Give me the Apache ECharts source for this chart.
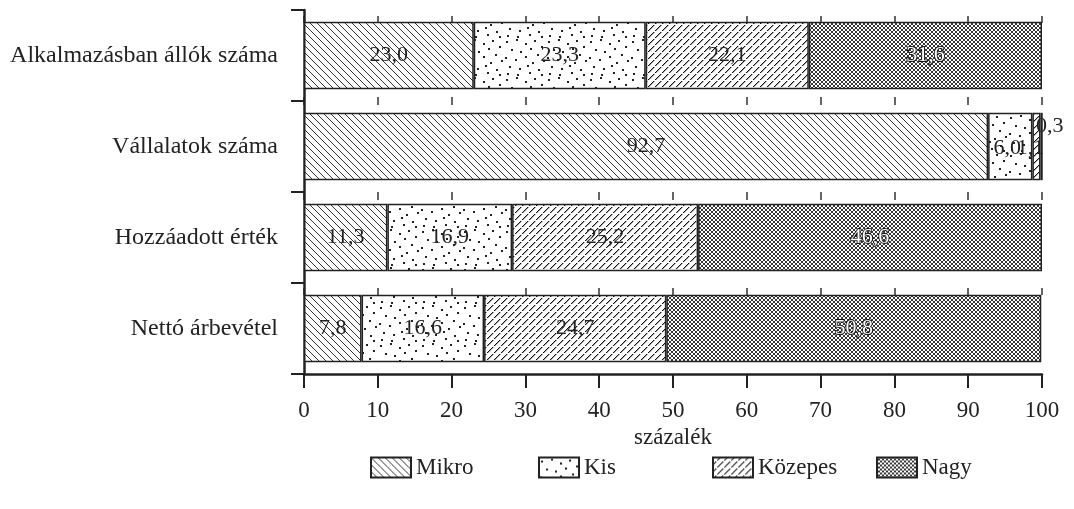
<!DOCTYPE html>
<html>
<head>
<meta charset="utf-8">
<script src="https://cdn.jsdelivr.net/npm/echarts@6/dist/echarts.min.js"></script>
<style>html,body{margin:0;padding:0;background:#fff}#c{width:1074px;height:509px}</style>
</head>
<body>
<div id="c"></div>
<script>
var categories = ['Alkalmazásban állók száma', 'Vállalatok száma', 'Hozzáadott érték', 'Nettó árbevétel'];
var seriesNames = ['Mikro', 'Kis', 'Közepes', 'Nagy'];
var mikro = [23.0, 92.7, 11.3, 7.8];
var kis = [23.3, 6.0, 16.9, 16.6];
var kozepes = [22.1, 1.1, 25.2, 24.7];
var nagy = [31.6, 0.3, 46.6, 50.8];
var xTicks = [0, 10, 20, 30, 40, 50, 60, 70, 80, 90, 100];

var FONT = 'Liberation Serif';
var INK = '#222';

function mk(w, h) { var c = document.createElement('canvas'); c.width = w; c.height = h; var x = c.getContext('2d'); x.fillStyle = '#fff'; x.fillRect(0, 0, w, h); return [c, x]; }

// Mikro: back-diagonal hatching
function patMikro() {
  var r = mk(7, 7), c = r[0], x = r[1];
  x.strokeStyle = '#333'; x.lineWidth = 1;
  for (var k = -1; k <= 1; k++) { x.beginPath(); x.moveTo(k * 7, 0); x.lineTo(k * 7 + 7, 7); x.stroke(); }
  return c;
}
// Kis: scattered dots
function patKis() {
  var r = mk(42, 38), c = r[0], x = r[1];
  var pts = [[2,3],[12,1],[21,5],[30,2],[37,8],[7,11],[16,13],[26,10],[33,16],[1,19],[11,21],[21,18],[28,24],[39,22],[5,28],[15,30],[23,27],[34,31],[3,35],[13,36],[25,34],[37,36]];
  x.fillStyle = '#222';
  pts.forEach(function (p) { x.fillRect(p[0], p[1], 2, 2); });
  return c;
}
// Közepes: dashed forward-diagonal hatching (pixel based)
function patKozepes() {
  var r = mk(7, 7), c = r[0], x = r[1];
  for (var i = 0; i < 7; i++) {
    if (i === 3) continue;
    x.fillStyle = '#111';
    x.fillRect(i, 6 - i, 1, 1);
    x.fillStyle = 'rgba(0,0,0,0.35)';
    x.fillRect((i + 1) % 7, 6 - i, 1, 1);
  }
  return c;
}
// Nagy: dense crosshatch
function patNagy() {
  var r = mk(4, 4), c = r[0], x = r[1];
  x.strokeStyle = '#222'; x.lineWidth = 0.9;
  for (var k = -1; k <= 1; k++) {
    x.beginPath(); x.moveTo(k * 4, 0); x.lineTo(k * 4 + 4, 4); x.stroke();
    x.beginPath(); x.moveTo(k * 4, 4); x.lineTo(k * 4 + 4, 0); x.stroke();
  }
  return c;
}

var patterns = [patMikro(), patKis(), patKozepes(), patNagy()];
var values = [mikro, kis, kozepes, nagy];

function fmt(p) { return p.value.toFixed(1).replace('.', ','); }

// special label placement for the thin segments of "Vállalatok száma"
var specialOffsets = { 1: [-3, 2], 2: [-6, 2], 3: [8, -20] };

var series = seriesNames.map(function (name, si) {
  var isNagy = si === 3;
  var data = values[si].map(function (v, ci) {
    if (ci === 1 && specialOffsets[si]) {
      return { value: v, label: { offset: specialOffsets[si], color: INK, textBorderWidth: 0 } };
    }
    return v;
  });
  return {
    name: name,
    type: 'bar',
    stack: 'total',
    barWidth: '74%',
    data: data,
    itemStyle: { color: { image: patterns[si], repeat: 'repeat' }, borderColor: INK, borderWidth: 1.5 },
    label: {
      show: true, position: 'inside', formatter: fmt,
      fontFamily: FONT, fontSize: 22,
      color: isNagy ? '#fff' : INK,
      textBorderColor: isNagy ? '#111' : 'transparent',
      textBorderWidth: isNagy ? 1.8 : 0
    },
    emphasis: { disabled: true }
  };
});

var legendLefts = [370, 538, 712, 876];
var legends = seriesNames.map(function (n, i) {
  return {
    data: [n], left: legendLefts[i], top: 456, padding: 0,
    itemWidth: 40, itemHeight: 20, itemGap: 8,
    icon: 'rect', selectedMode: false,
    textStyle: { fontFamily: FONT, fontSize: 23, color: INK, padding: [0, 0, 0, 0] }
  };
});

var chart = echarts.init(document.getElementById('c'), null, { renderer: 'canvas' });
chart.setOption({
  animation: false,
  backgroundColor: '#fff',
  textStyle: { fontFamily: FONT },
  legend: legends,
  grid: { left: 304, right: 32, top: 10, bottom: 135, containLabel: false },
  xAxis: {
    type: 'value', min: xTicks[0], max: xTicks[xTicks.length - 1], interval: 10,
    name: 'százalék', nameLocation: 'middle', nameGap: 51,
    nameTextStyle: { fontFamily: FONT, fontSize: 23, color: INK },
    axisLine: { show: true, lineStyle: { color: INK, width: 2.5 } },
    axisTick: { show: true, length: 14, lineStyle: { color: INK, width: 2 } },
    axisLabel: { fontFamily: FONT, fontSize: 23, color: INK, margin: 25 },
    splitLine: { show: true, lineStyle: { color: '#333', width: 1.5, type: [0, 6, 7, 74, 8, 87, 8, 88, 7, 200] } }
  },
  yAxis: {
    type: 'category', inverse: true, data: categories,
    axisLine: { show: true, lineStyle: { color: INK, width: 2.5 } },
    axisTick: { show: true, length: 13, lineStyle: { color: INK, width: 2 } },
    axisLabel: { fontFamily: FONT, fontSize: 24, color: INK, margin: 26 },
    splitLine: { show: false }
  },
  series: series
});
</script>
</body>
</html>
